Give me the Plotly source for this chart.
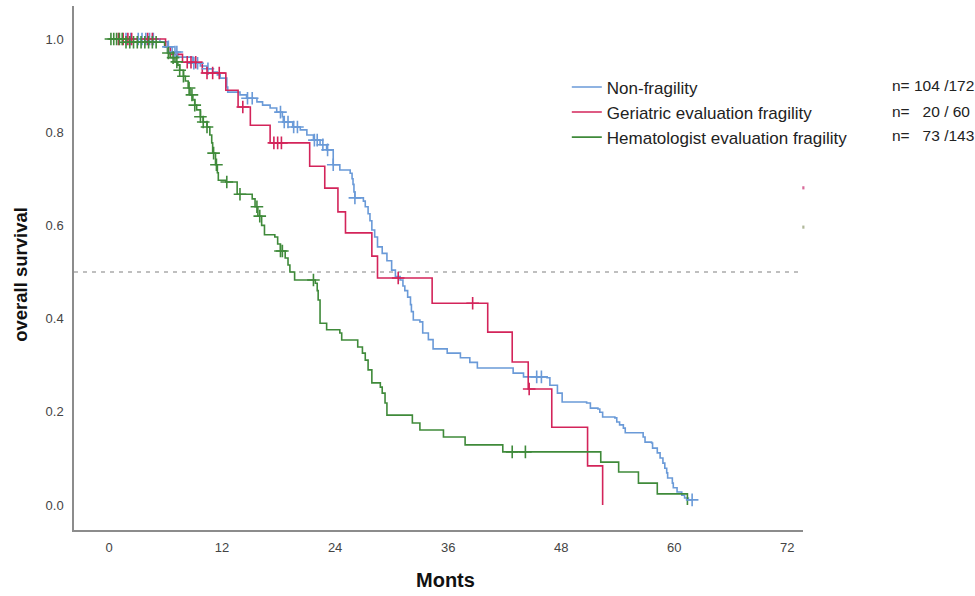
import plotly.graph_objects as go

# ---------------- data ----------------
series_names = ["Non-fragility", "Geriatric evaluation fragility", "Hematologist evaluation fragility"]
n_labels = ["n=\u00a0104\u00a0/172", "n=\u00a0\u00a0\u00a020\u00a0/\u00a060", "n=\u00a0\u00a0\u00a073\u00a0/143"]

blue_t = [5.4, 6.2, 6.7, 7.3, 8.9, 9.7, 10.4, 11.0, 11.5, 11.8, 12.5, 12.6, 13.9, 14.6, 15.7,
          16.3, 17.1, 17.8, 18.4, 18.5, 19.5, 20.3, 21.0, 21.7, 22.4, 23.1, 23.8, 24.5, 25.6, 25.8,
          25.9, 26.0, 26.1, 27.0, 27.2, 27.5, 27.7, 27.9, 28.2, 28.5, 29.0, 29.5, 30.0, 30.4, 30.9,
          31.2, 31.4, 31.7, 32.0, 32.1, 32.3, 33.0, 33.3, 33.9, 34.4, 35.9, 37.3, 38.3, 39.1, 42.9,
          44.0, 46.5, 46.8, 47.6, 48.1, 50.7, 51.1, 51.9, 52.1, 52.4, 53.7, 53.9, 54.2, 54.6, 54.8,
          56.7, 56.9, 57.6, 57.7, 58.2, 58.5, 58.8, 59.0, 59.2, 59.3, 59.8, 59.9, 60.3, 60.8, 61.1, 61.5]
blue_s = [0.994, 0.983, 0.972, 0.961, 0.948, 0.942, 0.936, 0.929, 0.923, 0.916, 0.897, 0.886, 0.880, 0.873, 0.865,
          0.858, 0.852, 0.843, 0.833, 0.822, 0.811, 0.805, 0.794, 0.783, 0.773, 0.762, 0.730, 0.719, 0.712, 0.700,
          0.688, 0.672, 0.659, 0.652, 0.640, 0.625, 0.610, 0.590, 0.575, 0.554, 0.540, 0.524, 0.504, 0.490, 0.483,
          0.470, 0.460, 0.446, 0.430, 0.415, 0.397, 0.393, 0.369, 0.355, 0.335, 0.326, 0.316, 0.306, 0.294, 0.283,
          0.275, 0.273, 0.257, 0.240, 0.221, 0.219, 0.208, 0.206, 0.199, 0.189, 0.187, 0.178, 0.172, 0.165, 0.155,
          0.146, 0.135, 0.133, 0.122, 0.112, 0.101, 0.090, 0.079, 0.069, 0.058, 0.047, 0.037, 0.028, 0.021, 0.015, 0.011]
blue_end = 61.9
blue_cens = [1.8, 2.3, 3.1, 3.5, 3.9, 4.3, 4.7, 6.3, 7.0, 7.2, 9.0, 9.4, 10.5, 14.7, 15.2, 18.2, 18.6,
             19.0, 19.6, 20.0, 21.8, 22.1, 22.7, 23.2, 23.8, 26.1, 45.4, 45.9, 61.9]

red_t = [6.0, 6.5, 7.8, 9.9, 12.4, 13.7, 15.0, 17.1, 21.3, 22.9, 24.3, 25.1, 27.9, 28.5, 34.3, 40.2,
         42.8, 44.5, 47.0, 50.8, 52.4]
red_s = [0.983, 0.967, 0.950, 0.927, 0.890, 0.854, 0.815, 0.777, 0.727, 0.680, 0.629, 0.584, 0.534, 0.487,
         0.433, 0.371, 0.307, 0.249, 0.167, 0.084, 0.0]
red_end = 52.4
red_cens = [1.0, 1.5, 2.0, 2.4, 4.1, 4.6, 8.3, 8.7, 9.2, 10.4, 11.0, 11.7, 14.2, 17.5, 17.9, 18.3,
            30.7, 38.6, 44.6]

green_t = [1.5, 5.9, 6.2, 6.5, 7.0, 7.3, 7.5, 7.9, 8.1, 8.4, 8.6, 8.9, 9.1, 9.3, 9.7,
           10.0, 10.4, 10.7, 10.9, 11.0, 11.3, 11.5, 11.6, 12.4, 13.6, 15.2, 15.5, 15.8, 16.2, 16.5,
           17.6, 17.9, 18.2, 18.7, 19.0, 19.2, 19.7, 21.9, 22.1, 22.2, 22.4, 23.1, 24.5, 24.7, 26.4,
           26.9, 27.2, 27.5, 27.9, 28.8, 29.0, 29.3, 29.5, 32.2, 33.0, 35.5, 37.8, 41.8, 52.2, 54.1,
           56.2, 58.2, 61.4]
green_s = [0.993, 0.983, 0.970, 0.960, 0.951, 0.944, 0.933, 0.920, 0.910, 0.895, 0.880, 0.869, 0.858, 0.848, 0.833,
           0.822, 0.811, 0.794, 0.777, 0.755, 0.730, 0.713, 0.697, 0.693, 0.667, 0.657, 0.640, 0.620, 0.600, 0.580,
           0.575, 0.560, 0.545, 0.530, 0.515, 0.500, 0.483, 0.476, 0.460, 0.440, 0.390, 0.376, 0.369, 0.354, 0.339,
           0.326, 0.311, 0.290, 0.262, 0.253, 0.240, 0.219, 0.193, 0.176, 0.161, 0.146, 0.129, 0.114, 0.092, 0.071,
           0.047, 0.024, 0.0]
green_end = 61.4
green_cens = [0.2, 0.5, 0.8, 1.1, 1.4, 1.8, 2.2, 2.6, 3.0, 3.4, 3.8, 4.2, 4.6, 5.0, 6.3, 6.8, 7.2, 7.5,
              7.9, 8.5, 8.8, 9.1, 9.7, 10.0, 10.4, 11.1, 11.4, 12.5, 13.9, 15.7, 16.0, 18.2, 18.4, 21.7,
              42.8, 44.2]

x_ticks = [0, 12, 24, 36, 48, 60, 72]
y_ticks = [0.0, 0.2, 0.4, 0.6, 0.8, 1.0]

# ---------------- styles ----------------
colors = ["#6a9ad8", "#d3245a", "#3f8a3a"]
FONT = "Liberation Sans, Arial, sans-serif"


def surv_at(times, vals, t):
    s = 1.0
    for ti, vi in zip(times, vals):
        if ti <= t + 1e-9:
            s = vi
        else:
            break
    return s


curves = [
    (blue_t, blue_s, blue_end, blue_cens),
    (red_t, red_s, red_end, red_cens),
    (green_t, green_s, green_end, green_cens),
]

fig = go.Figure()

for i, (t, s, end, cens) in enumerate(curves):
    xs = [0] + t + ([end] if end > t[-1] else [])
    ys = [1.0] + s + ([s[-1]] if end > t[-1] else [])
    fig.add_trace(go.Scatter(
        x=xs, y=ys, mode="lines", line=dict(color=colors[i], width=1.6, shape="hv"),
        name=series_names[i], showlegend=True, hoverinfo="skip"))

for i, (t, s, end, cens) in enumerate(curves):
    cy = [surv_at(t, s, c) for c in cens]
    fig.add_trace(go.Scatter(
        x=cens, y=cy, mode="markers", showlegend=False, hoverinfo="skip",
        marker=dict(symbol="cross-thin", size=9, line=dict(color=colors[i], width=1.6))))

fig.add_shape(type="line", xref="paper", yref="y", x0=0, x1=1, y0=0.5, y1=0.5,
              line=dict(color="#808080", width=1.2, dash="4px,5px"), layer="below")

# tiny edge marks seen at the right border
fig.add_shape(type="rect", xref="paper", yref="paper", x0=0.999, x1=1.002, y0=0.650, y1=0.656,
              line=dict(width=0), fillcolor="#d86a9a")
fig.add_shape(type="rect", xref="paper", yref="paper", x0=0.999, x1=1.002, y0=0.575, y1=0.581,
              line=dict(width=0), fillcolor="#b0b89a")

ann = []
for k, lab in enumerate(n_labels):
    ann.append(dict(text=lab, xref="paper", yref="paper", x=1.119, y=[0.849, 0.799, 0.753][k],
                    xanchor="left", yanchor="middle", showarrow=False,
                    font=dict(family=FONT, size=15.5, color="#222")))
ann.append(dict(text="<b>overall survival</b>", xref="paper", yref="paper", x=-0.0727, y=0.487,
                textangle=-90, showarrow=False, xanchor="center", yanchor="middle",
                font=dict(family=FONT, size=18.5, color="#111")))
ann.append(dict(text="<b>Monts</b>", xref="paper", yref="paper", x=0.509, y=-0.096,
                showarrow=False, xanchor="center", yanchor="middle",
                font=dict(family=FONT, size=20, color="#111")))

fig.update_layout(
    width=975, height=596,
    margin=dict(l=74, r=172, t=6, b=66),
    paper_bgcolor="white", plot_bgcolor="white",
    font=dict(family=FONT, size=13, color="#444"),
    annotations=ann,
    legend=dict(x=0.676, y=0.879, xanchor="left", yanchor="top",
                font=dict(family=FONT, size=17, color="#222"),
                bgcolor="rgba(0,0,0,0)", itemwidth=30, tracegroupgap=0),
    xaxis=dict(range=[-3.72, 73.67], tickvals=x_ticks, ticktext=[str(v) for v in x_ticks],
               showgrid=False, zeroline=False, showline=True, linecolor="#8c8c8c", linewidth=1.5,
               ticks="", ticklabelstandoff=5, tickfont=dict(size=13, color="#444")),
    yaxis=dict(range=[-0.0536, 1.0708], tickvals=y_ticks, ticktext=["%.1f" % v for v in y_ticks],
               showgrid=False, zeroline=False, showline=True, linecolor="#8c8c8c", linewidth=1.5,
               ticks="", ticklabelstandoff=6, tickfont=dict(size=13, color="#444")),
)

fig.write_html("out.html", config={"displayModeBar": False},
               post_script="document.body.style.margin='0';")
